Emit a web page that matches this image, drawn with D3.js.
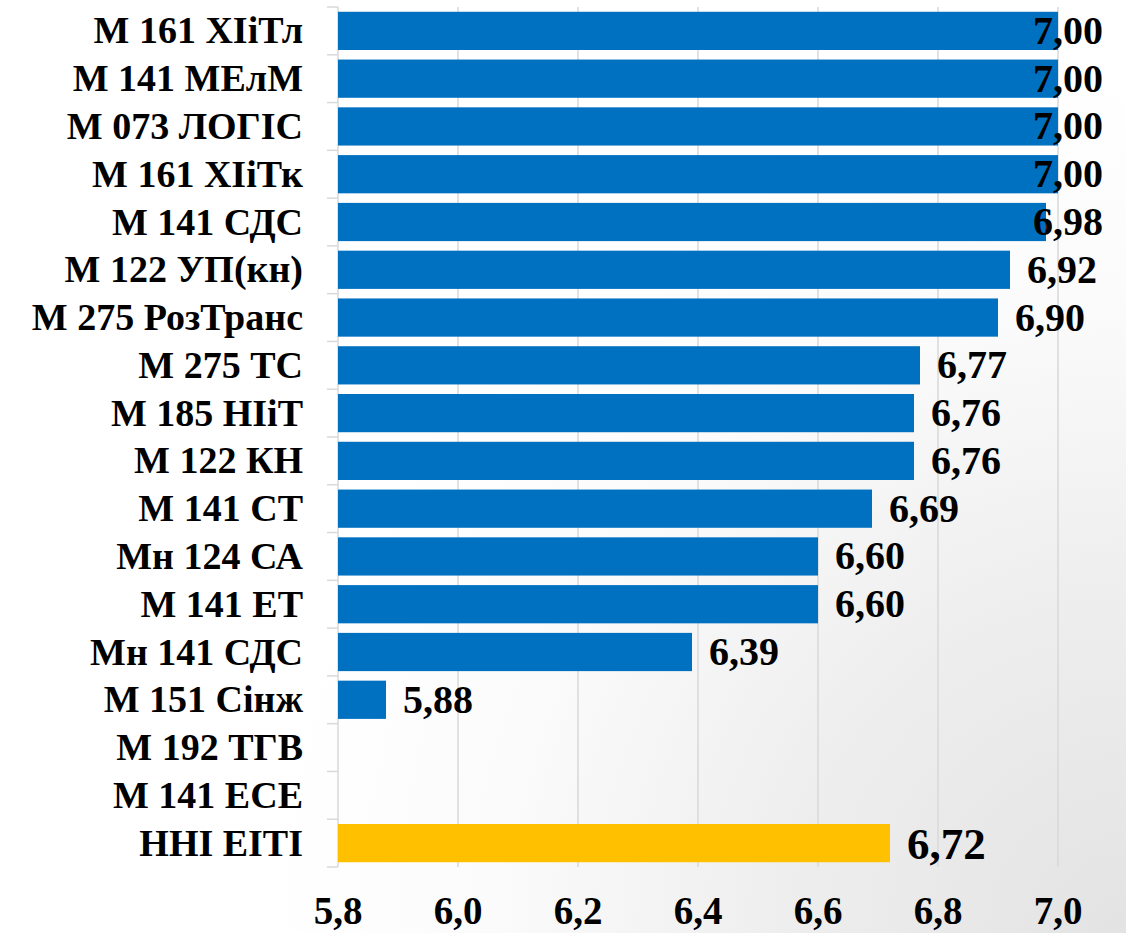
<!DOCTYPE html>
<html>
<head>
<meta charset="utf-8">
<script src="https://cdn.jsdelivr.net/npm/d3@7"></script>
<style>
  html, body { margin: 0; padding: 0; background: #fff; }
  svg { display: block; }
  text { font-family: "Liberation Serif", "Times New Roman", serif; font-weight: bold; fill: #000; }
</style>
</head>
<body>
<svg id="chart" width="1126" height="933"></svg>
<script>
const categories = [
  "М 161 ХІіТл", "М 141 МЕлМ", "М 073 ЛОГІС", "М 161 ХІіТк", "М 141 СДС",
  "М 122 УП(кн)", "М 275 РозТранс", "М 275 ТС", "М 185 НІіТ", "М 122 КН",
  "М 141 СТ", "Мн 124 СА", "М 141 ЕТ", "Мн 141 СДС", "М 151 Сінж",
  "М 192 ТГВ", "М 141 ЕСЕ", "ННІ ЕІТІ"
];
const values = [7.00, 7.00, 7.00, 7.00, 6.98, 6.92, 6.90, 6.77, 6.76, 6.76,
                6.69, 6.60, 6.60, 6.39, 5.88, null, null, 6.72];
const highlighted = ["ННІ ЕІТІ"];
const xTicks = [5.8, 6.0, 6.2, 6.4, 6.6, 6.8, 7.0];

const W = 1126, H = 933;
const plot = { left: 338, right: 1058, top: 7, bottom: 867 };
const svg = d3.select("#chart");

// background gradient
const defs = svg.append("defs");
const grad = defs.append("radialGradient").attr("id", "bg")
  .attr("gradientUnits", "userSpaceOnUse")
  .attr("cx", W).attr("cy", H).attr("r", 1150);
grad.append("stop").attr("offset", 0).attr("stop-color", "#e3e3e3");
grad.append("stop").attr("offset", 0.3).attr("stop-color", "#eeeeee");
grad.append("stop").attr("offset", 0.55).attr("stop-color", "#fbfbfb");
grad.append("stop").attr("offset", 0.75).attr("stop-color", "#ffffff");
svg.append("rect").attr("width", W).attr("height", H).attr("fill", "url(#bg)");

const x = d3.scaleLinear().domain([5.8, 7.0]).range([plot.left, plot.right]);
const y = d3.scaleBand().domain(categories).range([plot.top, plot.bottom])
  .paddingInner(0.2).paddingOuter(0.1);

// gridlines
svg.append("g").selectAll("line").data(xTicks.slice(1)).join("line")
  .attr("x1", d => x(d)).attr("x2", d => x(d))
  .attr("y1", plot.top).attr("y2", plot.bottom)
  .attr("stroke", "#d9d9d9").attr("stroke-width", 1.5);

// y axis line + tick marks at band boundaries
svg.append("line").attr("x1", plot.left).attr("x2", plot.left)
  .attr("y1", plot.top).attr("y2", plot.bottom)
  .attr("stroke", "#d9d9d9").attr("stroke-width", 1.5);
const step = y.step();
const boundaries = d3.range(categories.length + 1).map(i => plot.top + i * step);
svg.append("g").selectAll("line").data(boundaries).join("line")
  .attr("x1", plot.left - 11).attr("x2", plot.left)
  .attr("y1", d => d).attr("y2", d => d)
  .attr("stroke", "#d9d9d9").attr("stroke-width", 1.5);

const data = categories.map((c, i) => ({ c, v: values[i] })).filter(d => d.v != null);

// bars
svg.append("g").selectAll("rect").data(data).join("rect")
  .attr("x", x(5.8))
  .attr("y", d => y(d.c))
  .attr("width", d => x(d.v) - x(5.8))
  .attr("height", y.bandwidth())
  .attr("fill", d => highlighted.includes(d.c) ? "#FFC000" : "#0070C0");

// category labels
svg.append("g").selectAll("text").data(categories).join("text")
  .attr("x", 303)
  .attr("y", d => y(d) + y.bandwidth() / 2 + 12.5)
  .attr("text-anchor", "end")
  .attr("font-size", 38)
  .text(d => d);

// value labels
const fmt = v => d3.format(".2f")(v).replace(".", ",");
svg.append("g").selectAll("text").data(data).join("text")
  .attr("font-size", d => highlighted.includes(d.c) ? 45 : 40)
  .attr("y", d => y(d.c) + y.bandwidth() / 2 + (highlighted.includes(d.c) ? 16 : 13))
  .text(d => fmt(d.v))
  .each(function(d) {
    const w = this.getComputedTextLength();
    const xx = Math.min(x(d.v) + 17, 1103 - w);
    d3.select(this).attr("x", xx);
  });

// x tick labels
svg.append("g").selectAll("text").data(xTicks).join("text")
  .attr("x", d => x(d))
  .attr("y", 924)
  .attr("text-anchor", "middle")
  .attr("font-size", 39)
  .text(d => d3.format(".1f")(d).replace(".", ","));
</script>
</body>
</html>
